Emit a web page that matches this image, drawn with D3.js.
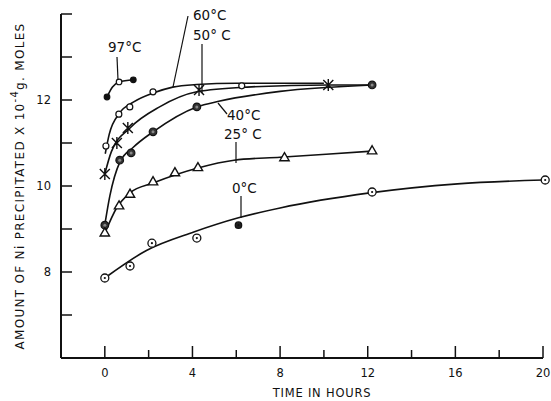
<!DOCTYPE html>
<html>
<head>
<meta charset="utf-8">
<script src="https://cdn.jsdelivr.net/npm/d3@7"></script>
<style>
  body { margin: 0; background: #fff; }
  text { font-family: "DejaVu Sans", "Liberation Sans", sans-serif; fill: #111; }
</style>
</head>
<body>
<svg id="chart" width="551" height="401"></svg>
<script>
// measured points [hours, amount x10^-4 g moles]
const pts97 = [[0.1, 12.07], [0.65, 12.42], [1.3, 12.47]];
const pts60 = [[0.05, 10.93], [0.64, 11.67], [1.14, 11.84], [2.2, 12.19], [6.25, 12.33]];
const pts50 = [[0, 10.28], [0.55, 11.0], [1.05, 11.35], [4.3, 12.23], [10.2, 12.35]];
const pts40 = [[0, 9.09], [0.68, 10.6], [1.2, 10.77], [2.2, 11.26], [4.2, 11.84], [12.2, 12.35]];
const pts25 = [[0, 8.9], [0.65, 9.53], [1.15, 9.8], [2.2, 10.09], [3.2, 10.3], [4.25, 10.42], [8.2, 10.65], [12.2, 10.81]];
const pts0 = [[0, 7.86], [1.15, 8.14], [2.15, 8.67], [4.2, 8.79], [6.1, 9.09], [12.2, 9.86], [20.1, 10.14]];

// hand drawn smooth curves
const fit97 = [[0.1, 12.07], [0.35, 12.3], [0.65, 12.42], [1.3, 12.47]];
const fit60 = [[0.02, 10.75], [0.2, 11.2], [0.68, 11.7], [1.3, 11.95], [2.2, 12.16], [3.1, 12.3], [4.2, 12.36], [6, 12.39], [10, 12.39]];
const fit50 = [[0, 10.28], [0.3, 10.8], [1.15, 11.35], [2.5, 11.84], [4.2, 12.19], [6.5, 12.3], [10.2, 12.35], [12.2, 12.35]];
const fit40 = [[0, 9.1], [0.23, 9.77], [0.68, 10.55], [1.3, 10.9], [2.2, 11.26], [4.2, 11.84], [5.2, 11.97], [8, 12.2], [12.2, 12.35]];
const fit25 = [[0, 8.9], [0.55, 9.5], [1.15, 9.84], [2.2, 10.07], [4.25, 10.42], [5.9, 10.6], [8, 10.67], [12.2, 10.81]];
const fit0 = [[0, 7.86], [1.9, 8.5], [4.06, 8.93], [6.1, 9.26], [8, 9.49], [12.1, 9.84], [16.1, 10.05], [20, 10.14]];

const xTicks = [0, 2, 4, 6, 8, 10, 12, 14, 16, 18, 20];
const xLabels = [0, 4, 8, 12, 16, 20];
const yTicks = [7, 8, 9, 10, 11, 12, 13, 14];
const yLabels = [8, 10, 12];

const svg = d3.select("#chart");
const x = d3.scaleLinear().domain([-2, 20]).range([61, 543]);
const y = d3.scaleLinear().domain([6, 14]).range([358, 14]);

// axes
svg.append("line").attr("x1", x(-2)).attr("x2", x(-2)).attr("y1", y(6)).attr("y2", y(14))
  .attr("stroke", "#111").attr("stroke-width", 2);
svg.append("line").attr("x1", x(-2)).attr("x2", x(20)).attr("y1", y(6)).attr("y2", y(6))
  .attr("stroke", "#111").attr("stroke-width", 2);

svg.selectAll(".xt").data(xTicks).enter().append("line")
  .attr("x1", d => x(d)).attr("x2", d => x(d))
  .attr("y1", y(6)).attr("y2", d => y(6) - (d % 4 === 0 ? 12 : 8))
  .attr("stroke", "#111").attr("stroke-width", 1.5);
svg.selectAll(".yt").data(yTicks).enter().append("line")
  .attr("x1", x(-2)).attr("x2", x(-2) + 11)
  .attr("y1", d => y(d)).attr("y2", d => y(d))
  .attr("stroke", "#111").attr("stroke-width", 1.5);

svg.selectAll(".xl").data(xLabels).enter().append("text")
  .attr("x", d => x(d)).attr("y", 377).attr("text-anchor", "middle")
  .attr("font-size", 11.5).text(d => d);
svg.selectAll(".yl").data(yLabels).enter().append("text")
  .attr("x", 51).attr("y", d => y(d) + 4).attr("text-anchor", "end")
  .attr("font-size", 11.5).text(d => d);

svg.append("text").attr("x", 322).attr("y", 397).attr("text-anchor", "middle")
  .attr("font-size", 11.5).attr("letter-spacing", 0.8).text("TIME IN HOURS");

const yt = svg.append("text").attr("transform", "translate(24,186) rotate(-90)")
  .attr("text-anchor", "middle").attr("font-size", 12).attr("letter-spacing", 1.3);
yt.append("tspan").text("AMOUNT OF Ni PRECIPITATED X 10");
yt.append("tspan").attr("dy", -6).attr("font-size", 10).text("-4");
yt.append("tspan").attr("dy", 6).text("g. MOLES");

// curves
const line = d3.line().x(d => x(d[0])).y(d => y(d[1])).curve(d3.curveMonotoneX);
[fit97, fit60, fit50, fit40, fit25, fit0].forEach(f => {
  svg.append("path").attr("d", line(f)).attr("fill", "none")
    .attr("stroke", "#111").attr("stroke-width", 1.6);
});

// markers
svg.selectAll(".m97").data(pts97).enter().append("circle")
  .attr("cx", d => x(d[0])).attr("cy", d => y(d[1])).attr("r", 2.8)
  .attr("fill", (d, i) => i === 1 ? "#fff" : "#111").attr("stroke", "#111").attr("stroke-width", 1.2);

svg.selectAll(".m60").data(pts60).enter().append("circle")
  .attr("cx", d => x(d[0])).attr("cy", d => y(d[1])).attr("r", 3)
  .attr("fill", "#fff").attr("stroke", "#111").attr("stroke-width", 1.2);

svg.selectAll(".m50").data(pts50).enter().append("path")
  .attr("transform", d => `translate(${x(d[0])},${y(d[1])})`)
  .attr("d", "M-5,-5L5,5M-5,5L5,-5M0,-6L0,6")
  .attr("stroke", "#111").attr("stroke-width", 1.4).attr("fill", "none");

svg.selectAll(".m40").data(pts40).enter().append("circle")
  .attr("cx", d => x(d[0])).attr("cy", d => y(d[1])).attr("r", 3.8)
  .attr("fill", "#333").attr("stroke", "#111").attr("stroke-width", 1.2);
svg.selectAll(".m40c").data(pts40).enter().append("circle")
  .attr("cx", d => x(d[0])).attr("cy", d => y(d[1])).attr("r", 1.5)
  .attr("fill", "#888");

const tri = d3.symbol().type(d3.symbolTriangle).size(38);
svg.selectAll(".m25").data(pts25).enter().append("path")
  .attr("transform", d => `translate(${x(d[0])},${y(d[1])})`)
  .attr("d", tri).attr("fill", "#fff").attr("stroke", "#111").attr("stroke-width", 1.4);

svg.selectAll(".m0").data(pts0).enter().append("circle")
  .attr("cx", d => x(d[0])).attr("cy", d => y(d[1])).attr("r", (d, i) => i === 4 ? 3.2 : 4)
  .attr("fill", (d, i) => i === 4 ? "#222" : "#fff").attr("stroke", "#111").attr("stroke-width", 1.3);
svg.selectAll(".m0c").data(pts0).enter().append("circle")
  .attr("cx", d => x(d[0])).attr("cy", d => y(d[1])).attr("r", 1.1)
  .attr("fill", "#111");

// series labels with leader lines
const labels = [
  { t: "60°C", tx: 193, ty: 20, l: [[188, 16], [173, 87]] },
  { t: "50° C", tx: 193, ty: 40, l: [[202, 44], [202, 93]] },
  { t: "97°C", tx: 108, ty: 52, l: [[117, 57], [118, 80]] },
  { t: "40°C", tx: 227, ty: 120, l: [[218, 103], [227, 114]] },
  { t: "25° C", tx: 224, ty: 139, l: [[236, 142], [236, 163]] },
  { t: "0°C", tx: 232, ty: 193, l: [[241, 196], [241, 218]] }
];
labels.forEach(d => {
  svg.append("text").attr("x", d.tx).attr("y", d.ty).attr("font-size", 13.5).text(d.t);
  svg.append("line").attr("x1", d.l[0][0]).attr("y1", d.l[0][1])
    .attr("x2", d.l[1][0]).attr("y2", d.l[1][1])
    .attr("stroke", "#111").attr("stroke-width", 1.2);
});
</script>
</body>
</html>
